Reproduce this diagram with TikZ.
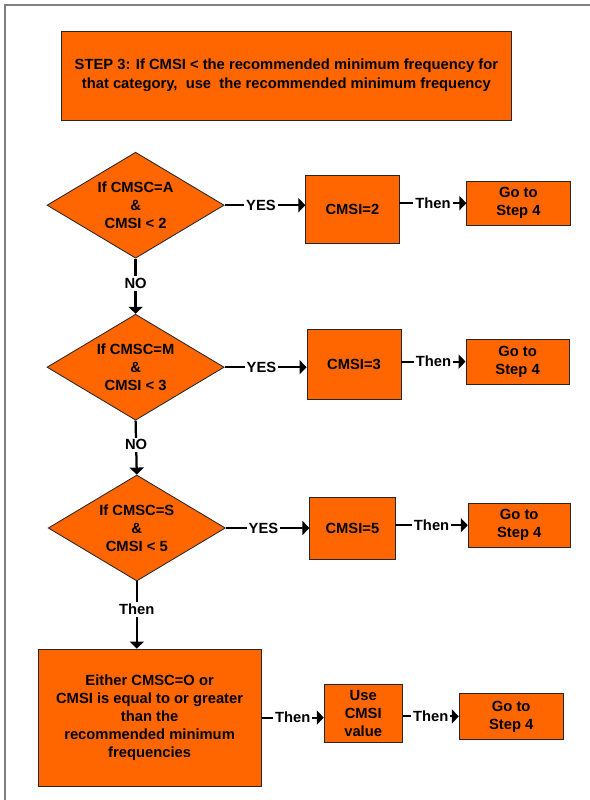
\documentclass[tikz,border=0pt]{standalone}
\usepackage{fontspec}
\setmainfont{Liberation Sans}
\usepackage{tikz}
\usetikzlibrary{shapes,arrows.meta}
\definecolor{boxorange}{HTML}{FF6600}

\begin{document}
\begin{tikzpicture}[scale = 1.0,
    orangebox/.style = {draw = black!85, line width = 0.6pt, fill = boxorange, align = center, inner sep = 1pt, font = \fontsize{10.5}{12.8}\selectfont\bfseries},
    decision/.style = {diamond, orangebox, aspect = 1.67, minimum width = 4.43cm, minimum height = 2.65cm},
    flow/.style = {line width = 1.4pt, -{Triangle[length = 5pt, width = 10pt]}},
    tag/.style = {fill = white, inner sep = 1.5pt, font = \fontsize{10.5}{12.8}\selectfont\bfseries}]

    \useasboundingbox (0,0) rectangle (14.75,-20);
    \draw [gray, line width = 1.2pt] (0.125,-20) -- (0.125,-0.125) -- (14.75,-0.125);

    % heading
    \node[orangebox, minimum width = 11.23cm, minimum height = 2.23cm, font = \fontsize{10.5}{13.4}\selectfont\bfseries] (step) at (7.16,-1.89)
        {STEP 3: If CMSI < the recommended minimum frequency for\\that category, \ use \ the recommended minimum frequency};

    % tests
    \node[decision] (ifA) at (3.39,-5.13) {If CMSC=A\\\&\\CMSI < 2};
    \node[decision] (ifM) at (3.39,-9.18) {If CMSC=M\\\&\\CMSI < 3};
    \node[decision] (ifS) at (3.42,-13.20) {If CMSC=S\\\&\\CMSI < 5};

    % results
    \node[orangebox, minimum width = 2.33cm, minimum height = 1.70cm] (setA) at (8.81,-5.23) {CMSI=2};
    \node[orangebox, minimum width = 2.35cm, minimum height = 1.73cm] (setM) at (8.85,-9.11) {CMSI=3};
    \node[orangebox, minimum width = 2.13cm, minimum height = 1.55cm] (setS) at (8.81,-13.20) {CMSI=5};

    \node[orangebox, minimum width = 2.58cm, minimum height = 1.10cm] (goA) at (12.96,-5.08) {Go to\\Step 4};
    \node[orangebox, minimum width = 2.58cm, minimum height = 1.13cm] (goM) at (12.94,-9.04) {Go to\\Step 4};
    \node[orangebox, minimum width = 2.55cm, minimum height = 1.10cm] (goS) at (12.98,-13.13) {Go to\\Step 4};

    % otherwise
    \node[orangebox, minimum width = 5.58cm, minimum height = 3.43cm] (other) at (3.74,-17.94)
        {Either CMSC=O or\\CMSI is equal to or greater\\than the\\recommended minimum\\frequencies};
    \node[orangebox, minimum width = 1.95cm, minimum height = 1.45cm] (use) at (9.08,-17.83) {Use\\CMSI\\value};
    \node[orangebox, minimum width = 2.60cm, minimum height = 1.13cm] (goO) at (12.78,-17.91) {Go to\\Step 4};

    \draw[flow] (ifA.east) -- node[tag, pos = 0.45] {YES} (ifA.east -| setA.west);
    \draw[flow] (ifM.east) -- node[tag, pos = 0.45] {YES} (ifM.east -| setM.west);
    \draw[flow] (ifS.east) -- node[tag, pos = 0.45] {YES} (ifS.east -| setS.west);

    \draw[flow] (setA.east |- goA.west) -- node[tag] {Then} (goA.west);
    \draw[flow] (setM.east |- goM.west) -- node[tag] {Then} (goM.west);
    \draw[flow] (setS.east |- goS.west) -- node[tag] {Then} (goS.west);

    \draw[flow, line width = 1.6pt] (ifA.south) -- node[tag, pos = 0.45] {NO} (ifM.north);
    \draw[flow, line width = 1.6pt] (ifM.south) -- node[tag, pos = 0.45] {NO} (ifS.north);
    \draw[flow, line width = 1.6pt] (ifS.south) -- node[tag, pos = 0.42] {Then} (ifS.south |- other.north);

    \draw[flow] (other.east) -- node[tag] {Then} (other.east -| use.west);
    \draw[flow] (use.east |- goO.west) -- node[tag] {Then} (goO.west);

\end{tikzpicture}
\end{document}
